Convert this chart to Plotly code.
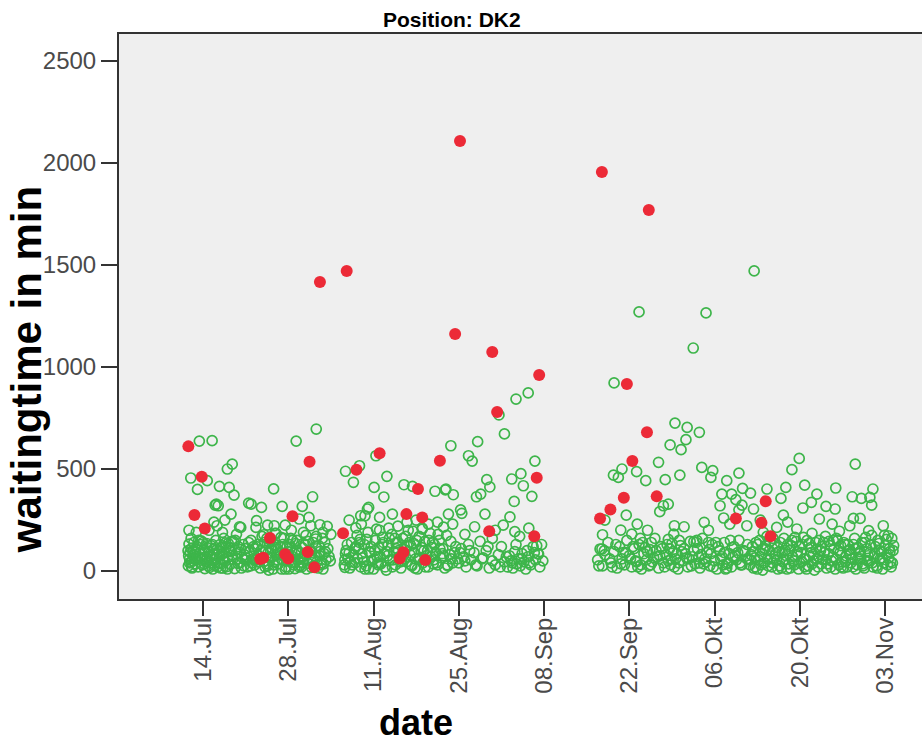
import pandas as pd
import plotly.graph_objects as go

# Waiting times at position DK2, days counted from 14 July
START = pd.Timestamp("2014-07-14")

tick_days = [0, 14, 28, 42, 56, 70, 84, 98, 112]
tick_labels = ["14.Jul", "28.Jul", "11.Aug", "25.Aug", "08.Sep",
               "22.Sep", "06.Okt", "20.Okt", "03.Nov"]
y_ticks = [0, 500, 1000, 1500, 2000, 2500]

# --- regular waiting times (open green circles) ---
band_a_day = [-2.4, -2.3, -2.2, -2.1, -2.0, -1.9, -1.8, -1.6, -1.5, -1.3,
              -1.1, -1.0, -0.8, -0.6, -0.5, -0.3, -0.1, 0.1, 0.3, 0.4,
              0.6, 0.8, 1.0, 1.1, 1.3, 1.5, 1.7, 1.9, 2.1, 2.3,
              2.5, 2.7, 2.9, 3.1, 3.3, 3.5, 3.7, 3.9, 4.1, 4.3,
              4.5, 4.7, 4.9, 5.2, 5.5, 5.8, 6.1, 6.4, 6.7, 7.0,
              -2.35, -1.95, -1.7, -1.2, -0.7, -0.2, 0.2, 0.7, 1.2, 1.6,
              2.0, 2.4, 2.8, 3.2, 3.6, 4.0, 4.4, 4.8, 5.3, 5.7,
              6.0, 6.3, 6.6, 6.9, -2.45, -1.4, 0.0, 1.4, 2.6, 3.4,
              -2.2, -1.6, -0.9, -0.4, 0.5, 0.9, 1.8, 2.2, 3.0, 3.8,
              4.6, 5.0, 5.6, 6.2, 6.8, -1.85, -0.05, 1.55, 3.25, 4.15]
band_a_min = [25, 132, 60, 93, 44, 110, 15, 78, 140, 35,
              55, 120, 20, 88, 65, 148, 30, 102, 12, 70,
              135, 45, 95, 18, 125, 60, 82, 28, 150, 105,
              40, 72, 15, 118, 52, 90, 138, 22, 66, 100,
              33, 145, 58, 12, 85, 120, 40, 68, 25, 110,
              75, 160, 50, 95, 150, 60, 35, 115, 75, 10,
              58, 20, 130, 84, 48, 10, 115, 78, 150, 38,
              92, 15, 130, 55, 100, 62, 140, 42, 95, 160,
              40, 100, 70, 130, 55, 25, 110, 80, 35, 120,
              95, 145, 60, 105, 80, 20, 85, 130, 15, 135]

band_b_day = [7.3, 7.6, 7.9, 8.2, 8.5, 8.8, 9.1, 9.4, 9.7, 10.0,
              10.3, 10.6, 10.9, 11.2, 11.5, 11.8, 12.1, 12.4, 12.7, 13.0,
              13.3, 13.6, 13.9, 14.2, 14.5, 14.8, 15.1, 15.4, 15.7, 16.0,
              16.3, 16.6, 16.9, 17.2, 17.5, 17.8, 18.1, 18.4, 18.7, 19.0,
              19.3, 19.6, 19.9, 20.2, 20.5, 7.5, 8.7, 9.9, 10.8, 11.9,
              12.9, 13.8, 14.9, 15.9, 16.8, 17.9, 18.9, 19.8, 9.3, 11.4,
              8.0, 8.4, 9.0, 9.6, 10.2, 10.7, 11.1, 11.7, 12.3, 12.8,
              13.2, 13.7, 14.1, 14.6, 15.2, 15.6, 16.2, 16.7, 17.3, 17.7,
              18.2, 18.6, 19.2, 19.7, 20.0, 20.7, 14.4, 16.4, 12.0, 10.5,
              7.1, 7.8, 8.3, 8.9, 9.5, 10.1, 10.4, 11.0, 11.3, 11.6,
              12.2, 12.6, 13.1, 13.5, 14.0, 14.3, 14.7, 15.0, 15.3, 15.8,
              16.1, 16.5, 17.0, 17.6, 18.0, 18.5, 19.1, 19.5, 20.1, 20.9]
band_b_min = [20, 95, 150, 60, 30, 120, 75, 15, 170, 48,
              100, 25, 140, 65, 10, 185, 82, 35, 120, 55,
              160, 20, 95, 130, 42, 70, 12, 150, 88, 28,
              115, 60, 175, 38, 100, 18, 140, 72, 45, 125,
              30, 160, 85, 55, 110, 140, 55, 90, 5, 130,
              10, 120, 30, 60, 130, 92, 15, 35, 45, 100,
              40, 110, 130, 60, 20, 90, 150, 45, 105, 165,
              75, 50, 10, 100, 135, 55, 20, 85, 145, 65,
              25, 170, 95, 10, 140, 70, 160, 40, 115, 160,
              65, 25, 120, 45, 100, 140, 35, 70, 110, 30,
              55, 90, 130, 10, 75, 115, 150, 40, 95, 20,
              60, 135, 10, 100, 55, 120, 75, 40, 95, 50]

band_c_day = [23.2, 23.5, 23.8, 24.1, 24.4, 24.7, 25.0, 25.3, 25.6, 25.9,
              26.2, 26.5, 26.8, 27.1, 27.4, 27.7, 28.0, 28.3, 28.6, 28.9,
              29.2, 29.5, 29.8, 30.1, 30.4, 30.7, 31.0, 31.3, 31.6, 31.9,
              32.2, 32.5, 32.8, 33.1, 33.4, 33.7, 34.0, 34.3, 34.6, 34.9,
              35.2, 35.5, 35.8, 36.1, 36.4, 36.7, 37.0, 37.3, 37.6, 37.9,
              38.2, 38.5, 38.8, 39.1, 39.4, 39.7, 40.0, 40.5, 41.0, 41.5,
              23.4, 24.2, 25.1, 25.8, 26.6, 27.3, 28.1, 28.8, 29.6, 30.3,
              31.1, 31.8, 32.6, 33.3, 34.1, 34.8, 35.6, 36.3, 37.1, 37.8,
              38.6, 39.3, 40.2, 40.8, 41.3, 29.0, 31.5, 33.9, 36.0, 38.0,
              23.3, 23.7, 24.0, 24.5, 24.9, 25.4, 25.7, 26.1, 26.4, 26.9,
              27.2, 27.6, 28.2, 28.7, 29.1, 29.4, 29.9, 30.2, 30.6, 31.2,
              31.7, 32.1, 32.4, 33.0, 33.5, 34.2, 34.7, 35.1, 35.4, 35.9,
              36.5, 36.9, 37.4, 37.7, 38.3, 38.9, 39.5, 40.1, 40.7, 41.8]
band_c_min = [30, 100, 60, 15, 140, 80, 40, 175, 110, 20,
              65, 130, 25, 190, 90, 50, 10, 150, 70, 115,
              35, 165, 85, 5, 125, 55, 180, 95, 30, 140,
              70, 15, 160, 105, 45, 200, 80, 25, 135, 60,
              10, 170, 100, 40, 145, 75, 20, 185, 115, 55,
              90, 30, 150, 65, 110, 15, 175, 80, 40, 120,
              85, 45, 120, 155, 10, 95, 60, 30, 140, 75,
              20, 110, 50, 170, 125, 15, 65, 100, 150, 35,
              180, 85, 25, 60, 90, 200, 160, 140, 210, 130,
              55, 130, 90, 30, 110, 60, 140, 85, 45, 155,
              10, 120, 100, 40, 70, 130, 20, 95, 160, 55,
              135, 100, 45, 80, 125, 30, 90, 150, 60, 115,
              20, 100, 70, 140, 40, 110, 75, 30, 145, 60]

band_d_day = [42.0, 42.4, 42.8, 43.2, 43.6, 44.0, 44.5, 45.0, 45.5, 46.0,
              46.5, 47.0, 47.5, 48.0, 48.5, 49.0, 49.5, 50.0, 50.3, 50.6,
              50.9, 51.2, 51.5, 51.8, 52.1, 52.4, 52.7, 53.0, 53.4, 53.8,
              54.2, 54.6, 55.0, 55.3, 55.6,
              42.2, 43.0, 43.8, 44.8, 45.8, 46.8, 48.8, 49.8, 50.8, 51.4,
              52.3, 53.2, 53.6, 54.4, 55.8]
band_d_min = [40, 110, 70, 20, 130, 55, 90, 25, 145, 65,
              100, 15, 50, 30, 80, 120, 45, 20, 75, 50,
              15, 95, 35, 60, 25, 85, 45, 10, 70, 30,
              120, 55, 85, 20, 130,
              90, 50, 100, 30, 60, 120, 20, 70, 40, 130,
              60, 100, 40, 90, 50]

band_e_day = [64.8, 65.2, 65.6, 66.0, 66.5, 67.0, 67.5, 68.0, 68.4, 68.8,
              69.2, 69.6, 70.0, 70.4, 70.8, 71.2, 71.6, 72.0, 72.4, 72.8,
              73.2, 73.6, 74.0, 74.4, 74.8, 75.2, 75.6, 76.0, 76.4, 76.8,
              77.2, 77.6, 78.0, 78.4, 78.8, 79.2, 79.6, 80.0, 80.4, 80.8,
              81.2, 81.6, 82.0, 82.4, 82.8, 83.2, 83.6, 84.0, 84.4, 84.8,
              85.2, 85.6, 86.0, 86.4, 86.8, 87.2, 87.6, 88.0, 88.5, 89.0,
              69.0, 70.2, 71.4, 72.6, 73.8, 75.0, 76.2, 77.4, 78.6, 79.8,
              81.0, 82.2, 83.4, 84.6, 85.8, 87.0, 88.2, 89.4, 74.2, 76.6,
              78.2, 80.6, 83.0, 85.4, 87.8, 89.6, 71.8, 73.4, 81.4, 86.6,
              65.0, 65.9, 66.8, 67.8, 68.6, 69.4, 70.6, 71.0, 72.2, 73.0,
              73.5, 74.6, 75.4, 75.8, 76.4, 77.0, 77.8, 78.1, 79.0, 79.4,
              80.2, 81.1, 81.8, 82.6, 83.1, 83.8, 84.2, 85.0, 85.6, 86.2,
              86.9, 87.4, 88.3, 88.8, 89.3, 67.2, 71.9, 76.9, 81.5, 86.0]
band_e_min = [55, 108, 25, 80, 140, 40, 95, 15, 120, 60,
              30, 150, 75, 20, 110, 45, 130, 10, 85, 55,
              25, 140, 65, 100, 15, 120, 40, 80, 155, 30,
              95, 60, 10, 125, 50, 85, 20, 145, 70, 35,
              110, 15, 160, 60, 90, 25, 130, 50, 10, 100,
              70, 140, 35, 85, 20, 120, 55, 150, 30, 95,
              90, 60, 20, 115, 45, 75, 130, 20, 95, 60,
              140, 35, 85, 120, 10, 70, 40, 130, 160, 110,
              150, 100, 140, 30, 90, 60, 160, 105, 70, 150,
              25, 100, 60, 130, 35, 90, 120, 50, 140, 95,
              30, 70, 110, 20, 50, 135, 85, 40, 110, 65,
              25, 150, 80, 45, 105, 20, 140, 60, 90, 40,
              115, 75, 30, 100, 60, 20, 30, 60, 40, 15]

band_f_day = [89.8, 90.2, 90.6, 91.0, 91.4, 91.8, 92.2, 92.6, 93.0, 93.4,
              93.8, 94.2, 94.6, 95.0, 95.4, 95.8, 96.2, 96.6, 97.0, 97.4,
              97.8, 98.2, 98.6, 99.0, 99.4, 99.8, 100.2, 100.6, 101.0, 101.4,
              101.8, 102.2, 102.6, 103.0, 103.4, 103.8, 104.2, 104.6, 105.0, 105.4,
              105.8, 106.2, 106.6, 107.0, 107.4, 107.8, 108.2, 108.6, 109.0, 109.4,
              109.8, 110.2, 110.6, 111.0, 111.4, 111.8, 112.2, 112.6, 113.0, 113.3,
              90.0, 90.4, 90.8, 91.2, 91.6, 92.0, 92.4, 92.8, 93.2, 93.6,
              94.0, 94.4, 94.8, 95.2, 95.6, 96.0, 96.4, 96.8, 97.2, 97.6,
              98.0, 98.4, 98.8, 99.2, 99.6, 100.0, 100.4, 100.8, 101.2, 101.6,
              102.0, 102.4, 102.8, 103.2, 103.6, 104.0, 104.4, 104.8, 105.2, 105.6,
              106.0, 106.4, 106.8, 107.2, 107.6, 108.0, 108.4, 108.8, 109.2, 109.6,
              110.0, 110.4, 110.8, 111.2, 111.6, 112.0, 112.4, 112.8, 113.1, 112.9,
              89.9, 90.3, 90.7, 91.1, 91.5, 91.9, 92.3, 92.7, 93.1, 93.5,
              93.9, 94.3, 94.7, 95.1, 95.5, 95.9, 96.3, 96.7, 97.1, 97.5,
              97.9, 98.3, 98.7, 99.1, 99.5, 99.9, 100.3, 100.7, 101.1, 101.5,
              101.9, 102.3, 102.7, 103.1, 103.5, 103.9, 104.3, 104.7, 105.1, 105.5,
              105.9, 106.3, 106.7, 107.1, 107.5, 107.9, 108.3, 108.7, 109.1, 109.5,
              109.9, 110.3, 110.7, 111.1, 111.5, 111.9, 112.3, 112.7, 113.2, 113.4]
band_f_min = [30, 120, 65, 10, 150, 85, 40, 170, 100, 20,
              135, 55, 95, 15, 160, 75, 35, 125, 50, 145,
              10, 90, 165, 60, 25, 115, 80, 140, 20, 100,
              55, 170, 35, 125, 70, 10, 150, 90, 45, 130,
              20, 105, 60, 160, 30, 85, 140, 15, 110, 50,
              175, 70, 25, 135, 95, 40, 155, 65, 20, 100,
              80, 15, 140, 55, 30, 105, 125, 25, 60, 160,
              85, 10, 140, 45, 100, 130, 15, 70, 165, 95,
              40, 130, 20, 150, 75, 35, 5, 60, 150, 120,
              90, 15, 145, 50, 110, 160, 30, 20, 140, 75,
              100, 40, 130, 10, 115, 60, 25, 165, 75, 130,
              20, 120, 150, 60, 10, 125, 30, 95, 160, 45,
              55, 95, 20, 130, 70, 5, 110, 60, 145, 40,
              75, 115, 25, 90, 55, 10, 100, 150, 30, 80,
              120, 45, 60, 10, 135, 90, 50, 105, 70, 35,
              140, 55, 85, 20, 150, 60, 100, 125, 15, 45,
              130, 80, 20, 110, 60, 95, 35, 140, 50, 90,
              40, 85, 15, 100, 65, 175, 80, 110, 40, 125]

upper_day = [-0.6, 1.5, 4.8, 4.0, -2.0, 0.7, -0.9, 2.7, 4.3, 5.1,
             11.6, 2.2, 4.6, 7.9, 9.6, 13.0, 16.3, 18.0, 15.3, 18.6,
             17.4, 2.3, -1.1, 6.2, 8.8, 19.2, 20.4, 2.0, 7.5, 13.5,
             -2.3, 1.8, 3.6, 6.0, 8.7, 10.6, 11.7, 15.8, 17.7, 18.5,
             21.0, 1.0, 14.5, 12.0, 16.5, 5.5, 3.2, 10.0, 19.7, 2.5,
             23.4, 24.7, 28.1, 30.2, 29.7, 28.4, 33.0, 27.0, 29.0, 31.1,
             25.1, 26.6, 25.7, 34.4, 38.1, 39.9, 41.1, 40.7, 40.3, 27.2,
             25.9, 23.3, 24.0, 35.0, 37.0, 32.0, 38.5, 41.0, 30.5, 26.0,
             28.5, 36.0, 33.5, 39.5, 34.5,
             51.4, 53.4, 49.5, 45.1, 43.6, 44.2, 54.5, 46.6, 47.1, 50.7,
             52.2, 52.6, 39.8, 44.9, 45.6, 54.0, 51.1, 46.3, 50.4, 44.6,
             49.3, 51.2, 42.5, 55.1, 54.8, 48.6, 42.3, 43.0, 48.0, 53.5,
             47.5, 52.0,
             71.6, 82.6, 80.5, 67.5, 90.5, 77.5, 79.5, 81.5, 79.3, 76.7,
             78.5, 74.8, 71.2, 68.8, 67.4, 68.2, 72.7, 75.9, 78.3, 81.9,
             83.7, 83.4, 86.0, 75.6, 76.4, 75.0, 69.5, 71.3, 68.6, 70.4,
             65.6, 77.4, 79.0, 82.3, 84.9, 85.2, 77.3, 80.6, 65.5, 66.0,
             73.0, 83.0, 86.5, 88.0, 85.5,
             97.9, 96.7, 107.1, 88.0, 86.8, 88.6, 89.9, 92.6, 95.7, 98.8,
             100.8, 103.9, 94.9, 98.5, 99.9, 102.3, 103.8, 106.6, 108.1, 110.0,
             109.5, 109.8, 90.4, 88.5, 95.3, 101.2, 106.8, 107.9, 111.7, 112.5,
             89.3, 94.2, 97.5, 103.3, 106.2, 109.3, 92.0, 100.0, 104.5, 96.0,
             91.5, 87.5]
upper_min = [637, 639, 524, 500, 456, 443, 400, 415, 410, 372,
             403, 328, 279, 328, 312, 317, 317, 364, 637, 696,
             263, 222, 190, 214, 247, 227, 219, 323, 333, 225,
             200, 240, 250, 217, 214, 225, 222, 255, 222, 157,
             180, 200, 200, 185, 190, 180, 190, 178, 190, 320,
             489, 435, 410, 464, 363, 565, 423, 304, 263, 279,
             212, 271, 516, 415, 391, 402, 374, 614, 279, 312,
             271, 18, 250, 250, 230, 220, 240, 230, 210, 230,
             205, 205, 240, 215, 195,
             843, 873, 672, 634, 565, 539, 539, 448, 412, 451,
             477, 418, 398, 364, 377, 366, 341, 279, 265, 217,
             225, 193, 283, 83, 124, 765, 300, 180, 200, 210,
             160, 170,
             1270, 1265, 1093, 922, 1471, 725, 704, 680, 644, 618,
             595, 533, 487, 500, 470, 459, 443, 448, 470, 508,
             492, 459, 443, 320, 328, 291, 274, 230, 201, 181,
             178, 222, 217, 239, 320, 377, 181, 144, 108, 250,
             200, 200, 230, 300, 260,
             552, 497, 524, 480, 377, 405, 382, 402, 410, 421,
             377, 407, 356, 309, 337, 317, 304, 364, 356, 402,
             361, 323, 304, 323, 274, 255, 258, 258, 222, 173,
             222, 214, 206, 230, 222, 198, 190, 185, 195, 240,
             250, 350]

# --- flagged waiting times (filled red dots) ---
flag_day = [-2.4, -0.2, -1.4, 0.3, 17.5, 14.7, 11.0, 9.9, 13.5, 14.0,
            17.2, 18.3, 9.4, 19.2, 23.6, 25.2, 29.0, 38.9, 35.3, 33.4,
            36.0, 23.0, 32.9, 32.3, 36.5, 42.2, 41.4, 47.5, 48.3, 55.2,
            54.8, 47.0, 54.4, 65.5, 73.2, 69.6, 72.9, 70.5, 69.1, 74.5,
            66.9, 65.2, 92.4, 87.5, 91.7, 93.2]
flag_min = [611, 462, 275, 209, 536, 268, 162, 65, 82, 62,
            93, 18, 59, 1417, 1471, 497, 577, 541, 402, 279,
            263, 185, 92, 62, 54, 2108, 1162, 1074, 779, 961,
            457, 195, 170, 1956, 1770, 917, 680, 539, 359, 366,
            302, 258, 342, 258, 237, 170]

green_day = band_a_day + band_b_day + band_c_day + band_d_day + band_e_day + band_f_day + upper_day
green_min = band_a_min + band_b_min + band_c_min + band_d_min + band_e_min + band_f_min + upper_min
assert len(green_day) == len(green_min)
assert len(flag_day) == len(flag_min)


def to_dates(days):
    return START + pd.to_timedelta(pd.Series(days, dtype=float), unit="D")


GREEN = "#3db54a"
RED = "#ec2a37"
AXIS = "#333333"
TICK_FONT = dict(family="Liberation Sans, Arial, sans-serif", size=24, color="#4a4a4a")
TITLE_FONT = "Liberation Sans Narrow, Liberation Sans, Arial Narrow, sans-serif"

fig = go.Figure()
fig.add_trace(go.Scatter(
    x=to_dates(green_day), y=green_min, mode="markers",
    marker=dict(symbol="circle-open", size=10, color=GREEN, line=dict(width=1.7, color=GREEN)),
    showlegend=False, hoverinfo="x+y"))
fig.add_trace(go.Scatter(
    x=to_dates(flag_day), y=flag_min, mode="markers",
    marker=dict(symbol="circle", size=12, color=RED, line=dict(width=0)),
    showlegend=False, hoverinfo="x+y"))

fig.update_layout(
    width=922, height=744,
    margin=dict(l=119, r=0, t=34, b=145),
    paper_bgcolor="white",
    plot_bgcolor="#efefef",
    xaxis=dict(
        type="date",
        range=[START + pd.Timedelta(days=-13.79), START + pd.Timedelta(days=118.06)],
        tickvals=list(to_dates(tick_days)), ticktext=tick_labels,
        tickangle=-90, tickfont=TICK_FONT, ticklabelstandoff=-8,
        ticks="outside", ticklen=15, tickwidth=2, tickcolor=AXIS,
        showline=True, linewidth=2, linecolor=AXIS, mirror=True,
        showgrid=False, zeroline=False),
    yaxis=dict(
        range=[-137, 2632],
        tickvals=y_ticks, ticktext=[str(v) for v in y_ticks],
        tickfont=TICK_FONT,
        ticks="outside", ticklen=16, tickwidth=2, tickcolor=AXIS,
        showline=True, linewidth=2, linecolor=AXIS, mirror=False,
        showgrid=False, zeroline=False),
    annotations=[
        dict(text="<b>Position: DK2</b>", xref="paper", yref="paper",
             x=0.4147, y=1.0248, xanchor="center", yanchor="middle", showarrow=False,
             font=dict(family="Liberation Sans, Arial, sans-serif", size=21, color="black")),
        dict(text="<b>date</b>", xref="paper", yref="paper",
             x=0.37, y=-0.2177, xanchor="center", yanchor="middle", showarrow=False,
             font=dict(family=TITLE_FONT, size=36, color="black")),
        dict(text="<b>waitingtime in min</b>", xref="paper", yref="paper",
             x=-0.1158, y=0.405, xanchor="center", yanchor="middle", showarrow=False,
             textangle=-90, font=dict(family=TITLE_FONT, size=42, color="black")),
    ],
)

fig.write_html("out.html")
